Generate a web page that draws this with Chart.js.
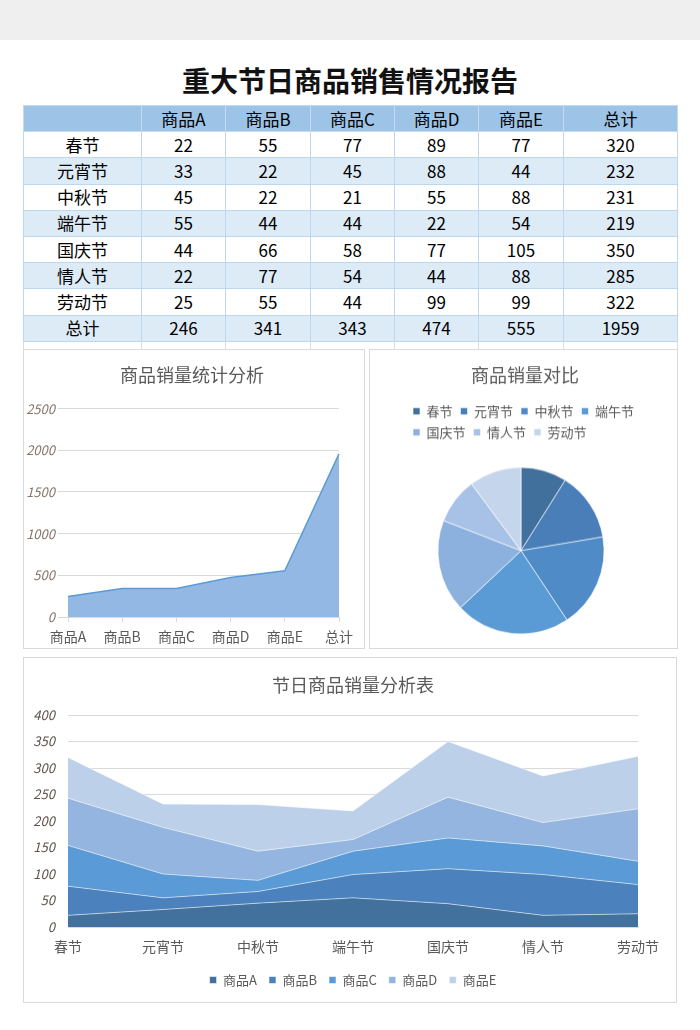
<!DOCTYPE html>
<html lang="zh">
<head>
<meta charset="utf-8">
<title>重大节日商品销售情况报告</title>
<script src="https://cdn.jsdelivr.net/npm/chart.js@4.4.0/dist/chart.umd.min.js"></script>
<style>
    html, body { margin: 0; padding: 0; background: #fff; }
    body {
        width: 700px; height: 1030px; position: relative; overflow: hidden;
        font-family: "Noto Sans CJK SC", "Noto Sans", sans-serif;
    }
    .topbar { position: absolute; left: 0; top: 0; width: 700px; height: 40px; background: #efefef; }
    .report-title {
        position: absolute; left: 0; top: 60px; width: 700px; line-height: 40px;
        text-align: center; font-size: 28px; font-weight: 700; color: #111;
    }
    #salesTable {
        position: absolute; left: 23px; top: 105px; width: 654px;
        border-collapse: collapse; table-layout: fixed;
    }
    #salesTable tr { height: 26.2px; }
    #salesTable td {
        padding: 0; border: 1px solid #bdd7ee; text-align: center;
        font-size: 17px; line-height: 20px; color: #000;
    }
    #salesTable tr.head td { background: #9dc3e6; border-color: #c3daf0; }
    #salesTable tr.alt td { background: #ddebf7; }
    #salesTable tr.gap { height: 8px; }
    #salesTable tr.gap td { border-color: #dcdcdc; border-bottom: none; background: #fff; }
    .panel { position: absolute; background: #fff; border: 1px solid #d9d9d9; box-sizing: border-box; }
    .chart-box { position: absolute; }
</style>
</head>
<body>
    <div class="topbar"></div>
    <div class="report-title">重大节日商品销售情况报告</div>

    <!-- 数据表 -->
    <table id="salesTable">
        <colgroup>
            <col style="width:118px"><col style="width:84px"><col style="width:85px"><col style="width:84px">
            <col style="width:84px"><col style="width:85px"><col style="width:114px">
        </colgroup>
        <tbody id="tableBody"></tbody>
    </table>

    <!-- 图表面板 -->
    <div class="panel" style="left:23px; top:349px; width:342px; height:300px;"></div>
    <div class="panel" style="left:369px; top:349px; width:309px; height:300px;"></div>
    <div class="panel" style="left:23px; top:657px; width:654px; height:346px;"></div>

    <div class="chart-box" style="left:24px; top:350px; width:339px; height:297px;"><canvas id="totalChart"></canvas></div>
    <div class="chart-box" style="left:370px; top:350px; width:306px; height:301.5px;"><canvas id="pieChart"></canvas></div>
    <div class="chart-box" style="left:24px; top:658px; width:651px; height:343px;"><canvas id="areaChart"></canvas></div>

<script>
    // 数据
    const festivals = ['春节', '元宵节', '中秋节', '端午节', '国庆节', '情人节', '劳动节'];
    const products = ['商品A', '商品B', '商品C', '商品D', '商品E'];
    const salesA = [22, 33, 45, 55, 44, 22, 25];
    const salesB = [55, 22, 22, 44, 66, 77, 55];
    const salesC = [77, 45, 21, 44, 58, 54, 44];
    const salesD = [89, 88, 55, 22, 77, 44, 99];
    const salesE = [77, 44, 88, 54, 105, 88, 99];
    const festivalTotals = [320, 232, 231, 219, 350, 285, 322];
    const productTotals = [246, 341, 343, 474, 555];
    const grandTotal = 1959;

    const totalLabels = ['商品A', '商品B', '商品C', '商品D', '商品E', '总计'];
    const totalValues = [246, 341, 343, 474, 555, 1959];

    // 颜色
    const areaColors = ['#41719c', '#4b81bc', '#5a9ad6', '#93b5df', '#bdd0ea'];
    const pieColors = ['#41709c', '#4a7eb8', '#4f8bc6', '#5b9bd5', '#8db1de', '#a7c2e6', '#c5d6ec'];

    // 表格
    const seriesValues = [salesA, salesB, salesC, salesD, salesE];
    let rows = '<tr class="head"><td></td>' + products.map(p => `<td>${p}</td>`).join('') + '<td>总计</td></tr>';
    festivals.forEach((f, i) => {
        rows += `<tr class="${i % 2 ? 'alt' : ''}"><td>${f}</td>` +
            seriesValues.map(s => `<td>${s[i]}</td>`).join('') +
            `<td>${festivalTotals[i]}</td></tr>`;
    });
    rows += '<tr class="alt"><td>总计</td>' + productTotals.map(v => `<td>${v}</td>`).join('') + `<td>${grandTotal}</td></tr>`;
    rows += '<tr class="gap">' + '<td></td>'.repeat(7) + '</tr>';
    document.getElementById('tableBody').innerHTML = rows;

    Chart.defaults.font.family = '"Noto Sans CJK SC", "Noto Sans", sans-serif';
    Chart.defaults.color = '#595959';
    Chart.defaults.animation = false;
    Chart.defaults.events = [];

    const titleFont = { size: 18, weight: 'normal' };
    const tickFont = { size: 13, style: 'italic' };

    // 商品销量统计分析
    new Chart(document.getElementById('totalChart'), {
        type: 'line',
        data: {
            labels: totalLabels,
            datasets: [{
                data: totalValues,
                fill: 'origin',
                backgroundColor: '#94b8e4',
                borderColor: '#5b9bd5',
                borderWidth: 1.5,
                pointRadius: 0,
                tension: 0
            }]
        },
        options: {
            responsive: true,
            maintainAspectRatio: false,
            layout: { padding: { left: 0, right: 3, top: 0, bottom: 0 } },
            plugins: {
                legend: { display: false },
                tooltip: { enabled: false },
                title: { display: true, text: '商品销量统计分析', color: '#595959', font: titleFont, padding: { top: 14, bottom: 23 } }
            },
            scales: {
                x: {
                    grid: { drawOnChartArea: false, drawTicks: true, tickLength: 5, color: '#d9d9d9' },
                    border: { color: '#d9d9d9' },
                    ticks: { color: '#595959', font: { size: 14 }, padding: 6, maxRotation: 0, autoSkip: false },
                    afterFit: s => { s.height = 30; }
                },
                y: {
                    min: 0,
                    max: 2500,
                    ticks: { stepSize: 500, color: '#86766a', font: tickFont, padding: 3, format: { useGrouping: false } },
                    grid: { color: '#d9d9d9', tickLength: 10 },
                    border: { display: false },
                    afterFit: s => { s.width = 44; }
                },
                // 右侧留白，让标题居中于面板
                spacer: {
                    axis: 'y',
                    position: 'right',
                    grid: { display: false, drawTicks: false },
                    ticks: { display: false },
                    border: { display: false },
                    afterFit: s => { s.width = 21; }
                }
            }
        }
    });

    // 饼图位置微调
    const pieShift = {
        id: 'pieShift',
        afterLayout(chart, args, opts) {
            const a = chart.chartArea;
            a.left += opts.dx; a.right += opts.dx;
            a.top += opts.dy; a.bottom += opts.dy;
        }
    };

    // 商品销量对比
    new Chart(document.getElementById('pieChart'), {
        type: 'pie',
        data: {
            labels: festivals,
            datasets: [{
                data: salesA,
                backgroundColor: pieColors,
                borderColor: 'rgba(255,255,255,0.6)',
                borderWidth: 1,
                radius: 83
            }]
        },
        options: {
            responsive: true,
            maintainAspectRatio: false,
            layout: { padding: { left: 35, right: 31, top: 0, bottom: 0 } },
            plugins: {
                tooltip: { enabled: false },
                title: { display: true, text: '商品销量对比', color: '#595959', font: titleFont, padding: { top: 14.2, bottom: 10.7 } },
                legend: {
                    position: 'top',
                    align: 'start',
                    labels: { boxWidth: 7, boxHeight: 7, padding: 8, color: '#595959', font: { size: 13 } }
                },
                pieShift: { dx: -4, dy: 0 }
            }
        },
        plugins: [pieShift]
    });

    // 节日商品销量分析表
    new Chart(document.getElementById('areaChart'), {
        type: 'line',
        data: {
            labels: festivals,
            datasets: products.map((p, i) => ({
                label: p,
                data: seriesValues[i],
                fill: i === 0 ? 'origin' : '-1',
                backgroundColor: areaColors[i],
                borderColor: 'rgba(255,255,255,0.55)',
                borderWidth: 1,
                pointRadius: 0,
                tension: 0
            }))
        },
        options: {
            responsive: true,
            maintainAspectRatio: false,
            layout: { padding: { left: 0, right: 37, top: 0, bottom: 4.5 } },
            plugins: {
                tooltip: { enabled: false },
                title: {
                    display: true, fullSize: false, text: '节日商品销量分析表', color: '#595959', font: titleFont,
                    padding: { top: 16, bottom: 19.4 }
                },
                legend: {
                    position: 'bottom',
                    fullSize: false,
                    labels: { boxWidth: 7, boxHeight: 7, padding: 12, color: '#595959', font: { size: 13 } }
                }
            },
            scales: {
                x: {
                    grid: { drawOnChartArea: false, drawTicks: false },
                    border: { color: '#d9d9d9' },
                    ticks: { color: '#595959', font: { size: 14 }, padding: 11, maxRotation: 0, autoSkip: false },
                    afterFit: s => { s.height = 34.5; }
                },
                y: {
                    stacked: true,
                    min: 0,
                    max: 400,
                    ticks: { stepSize: 50, color: '#5e534d', font: tickFont, padding: 13 },
                    grid: { color: '#d9d9d9', drawTicks: false },
                    border: { display: false },
                    afterFit: s => { s.width = 44; }
                }
            }
        }
    });
</script>
</body>
</html>
